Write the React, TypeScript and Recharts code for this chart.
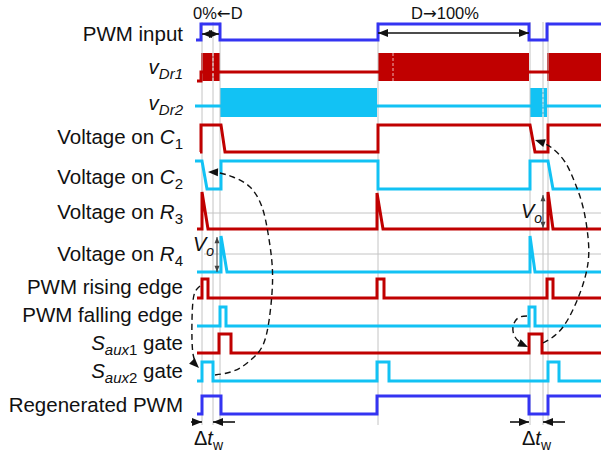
import React from 'react';
import { ComposedChart, Line, Area, Scatter, XAxis, YAxis } from 'recharts';

// ---------- colours & fonts ----------
const BLUE = '#3434F2';
const RED = '#C00000';
const CYAN = '#12C2F4';
const GUIDE = '#C4C4C4';
const INK = '#111111';
const FONT = '"Liberation Sans", Arial, Helvetica, sans-serif';
const ARROW_FONT = '"DejaVu Sans", sans-serif';

// ---------- axes (time in arbitrary units, 0 = start of traces) ----------
const T_DOMAIN: [number, number] = [-49.5, 100.75];
const Y_DOMAIN: [number, number] = [0, 454];

// ---------- waveforms: [time, level] (0 = low, 1 = high) ----------
const pwmInput = [[-0.5, 0], [0.75, 0], [0.75, 1], [5.5, 1], [5.5, 0], [45, 0], [45, 1], [82.75, 1], [82.75, 0], [87.25, 0], [87.25, 1], [100.75, 1]];
const vDr1Idle = [[-0.25, 0], [0.75, 0], [0.75, 0.32], [100.75, 0.32]];
const vDr1Bursts = [[0.75, 5.5], [45, 82.75], [87.25, 100.75]];
const vDr1Seams = [3.75, 48.75];
const vDr2Idle = [[-0.75, 0.38], [100.75, 0.38]];
const vDr2Bursts = [[5.5, 44.75], [83, 87.25]];
const vDr2Seams = [86.25];
const vC1 = [[0.5, 0], [0.75, 0], [0.75, 1], [5.75, 1], [6.75, 0], [45, 0], [45, 1], [83, 1], [84.25, 0], [87.5, 0], [87.5, 1], [100.75, 1]];
const vC2 = [[-0.75, 1], [1, 1], [2.25, 0], [5.75, 0], [5.75, 1], [45, 1], [45, 0], [83, 0], [83, 1], [87.5, 1], [88.75, 0], [100.75, 0]];
const vR3 = [[-0.25, 0], [1, 0], [1, 1], [2.5, 0], [44.75, 0], [44.75, 0.97], [46.25, 0], [87.5, 0], [87.5, 1], [88.75, 0], [100.75, 0]];
const vR4 = [[-0.25, 0], [5.75, 0], [5.75, 1], [7.25, 0], [83, 0], [83, 1], [84.25, 0], [100.75, 0]];
const risingEdge = [[-0.25, 0], [1, 0], [1, 1], [2.5, 1], [2.5, 0], [44.75, 0], [44.75, 1], [46.5, 1], [46.5, 0], [87.25, 0], [87.25, 1], [88.75, 1], [88.75, 0], [100.75, 0]];
const fallingEdge = [[-0.25, 0], [5.5, 0], [5.5, 1], [7, 1], [7, 0], [82.75, 0], [82.75, 1], [84.25, 1], [84.25, 0], [100.75, 0]];
const saux1Gate = [[-0.25, 0], [5.25, 0], [5.25, 1], [8.25, 1], [8.25, 0], [82.75, 0], [82.75, 1], [86, 1], [86, 0], [100.75, 0]];
const saux2Gate = [[-0.25, 0], [1, 0], [1, 1], [3.75, 1], [3.75, 0], [44.75, 0], [44.75, 1], [47.75, 1], [47.75, 0], [87.5, 0], [87.5, 1], [90.25, 1], [90.25, 0], [100.75, 0]];
const regenPwm = [[-0.25, 0], [1, 0], [1, 1], [5.75, 1], [5.75, 0], [44.75, 0], [44.75, 1], [82.75, 1], [82.75, 0], [87.5, 0], [87.5, 1], [100.75, 1]];

// ---------- guide lines ----------
const guideTimes = [1, 3.75, 5.5, 45, 83, 86.25, 87.5];
const levelGuides = [213, 254];

// ---------- row labels (y axis ticks) ----------
type Part = [string, string?];
const labelY = [41, 74, 110, 144, 184, 219, 261, 294, 322, 350, 378, 412];
const labelText: Part[][] = [
  [['PWM input']],
  [['v', 'i'], ['Dr1', 'subi']],
  [['v', 'i'], ['Dr2', 'subi']],
  [['Voltage on '], ['C', 'i'], ['1', 'sub']],
  [['Voltage on '], ['C', 'i'], ['2', 'sub']],
  [['Voltage on '], ['R', 'i'], ['3', 'sub']],
  [['Voltage on '], ['R', 'i'], ['4', 'sub']],
  [['PWM rising edge']],
  [['PWM falling edge']],
  [['S', 'i'], ['aux', 'subi'], ['1', 'sub'], [' gate']],
  [['S', 'i'], ['aux', 'subi'], ['2', 'sub'], [' gate']],
  [['Regenerated PWM']],
];

// ---------- layout of rows (plot units) ----------
const ROW = {
  pwm: { base: 40, amp: 16 },
  vdr1: { base: 81, amp: 28 },
  vdr2: { base: 117, amp: 29 },
  c1: { base: 152, amp: 27 },
  c2: { base: 189, amp: 28 },
  r3: { base: 229, amp: 37 },
  r4: { base: 272, amp: 36 },
  rise: { base: 298, amp: 19 },
  fall: { base: 326, amp: 19 },
  s1: { base: 353, amp: 19 },
  s2: { base: 381, amp: 19 },
  regen: { base: 414, amp: 18 },
};

// ---------- annotations ----------
const dimArrows = [
  { from: [1, 34], to: [5.25, 34], heads: [180, 0], c: INK, w: 1.6, s: 8 },
  { from: [45, 33], to: [82.75, 33], heads: [180, 0], c: INK, w: 1.6, s: 8 },
  { from: [-1.75, 422], to: [1, 422], heads: [-1, 0], c: INK, w: 1.6, s: 8 },
  { from: [9.25, 422], to: [3.75, 422], heads: [-1, 180], c: INK, w: 1.6, s: 8 },
  { from: [78, 422], to: [82.75, 422], heads: [-1, 0], c: INK, w: 1.6, s: 8 },
  { from: [91.75, 422], to: [86.25, 422], heads: [-1, 180], c: INK, w: 1.6, s: 8 },
  { from: [4.75, 237], to: [4.75, 272], heads: [270, 90], c: '#444', w: 1, s: 5 },
  { from: [86.25, 195], to: [86.25, 228], heads: [270, 90], c: '#444', w: 1, s: 5 },
];
const causalCurves = [
  { pts: [[4.25, 375], [7.25, 373], [10.5, 368], [13.75, 358], [16, 347], [17.5, 327], [18.5, 293], [18.5, 263], [17.5, 233], [16, 207], [13, 187], [8.75, 177], [5.5, 173], [3.25, 172]], tip: [2.5, 172], a: 182 },
  { pts: [[0.5, 286], [-0.75, 292], [-1.3, 303], [-1.5, 320], [-1.5, 340], [-1.2, 355], [-0.5, 363]], tip: [0.25, 368], a: 45 },
  { pts: [[86.25, 343], [91.25, 327], [95.5, 293], [97.5, 263], [97.5, 237], [96.25, 207], [94.25, 183], [91.75, 162], [88.5, 148], [85.75, 142]], tip: [84.25, 140], a: 198 },
  { pts: [[82.25, 316], [80, 318], [78.75, 327], [79.25, 337], [81, 344]], tip: [82.5, 347], a: 25 },
];
const textNotes = [
  { t: -1.25, y: 18.5, anchor: 'start', size: 16.5, parts: [['0%'], ['\u2190', 'arrow'], ['D']] as Part[] },
  { t: 61.75, y: 18.5, anchor: 'middle', size: 16.5, parts: [['D'], ['\u2192', 'arrow'], ['100%']] as Part[] },
  { t: -1.25, y: 251, anchor: 'start', size: 20, parts: [['V', 'i'], ['o', 'subi']] as Part[] },
  { t: 80.75, y: 218, anchor: 'start', size: 20, parts: [['V', 'i'], ['o', 'subi']] as Part[] },
  { t: -1, y: 445, anchor: 'start', size: 20, parts: [['\u0394'], ['t', 'i'], ['w', 'sub']] as Part[] },
  { t: 81, y: 445, anchor: 'start', size: 20, parts: [['\u0394'], ['t', 'i'], ['w', 'sub']] as Part[] },
];

// ---------- helpers ----------
const toPts = (wave: number[][], row: { base: number; amp: number }) =>
  wave.map(([t, l]) => ({ t, y: row.base - l * row.amp }));

function rich(parts: Part[], size: number, subSize: number, subShift: number) {
  let shift = 0;
  return parts.map(([txt, kind = 'n'], i) => {
    const isSub = kind === 'sub' || kind === 'subi';
    const target = isSub ? subShift : 0;
    const dy = target - shift;
    shift = target;
    return (
      <tspan key={i} dy={dy !== 0 ? dy : undefined} fontSize={isSub ? subSize : size}
        fontFamily={kind === 'arrow' ? ARROW_FONT : undefined}
        fontStyle={kind === 'i' || kind === 'subi' ? 'italic' : 'normal'}>{txt}</tspan>
    );
  });
}

const RowLabel = (props: any) => {
  const { y, payload } = props;
  const idx = labelY.indexOf(payload.value);
  if (idx < 0) return null;
  return (
    <text x={183} y={y} textAnchor="end" fontFamily={FONT} fontSize={20.5} fill={INK} style={{ whiteSpace: 'pre' }}>
      {rich(labelText[idx], 20.5, 15, 5)}
    </text>
  );
};

const ArrowHead = (props: any) => {
  const { cx, cy, payload } = props;
  if (cx == null || cy == null) return null;
  const L = payload.s * 1.25;
  const W = payload.s;
  return (
    <polygon points={`0,0 ${-L},${-W / 2} ${-L},${W / 2}`}
      transform={`translate(${cx},${cy}) rotate(${payload.a})`} fill={payload.c} />
  );
};

const NoteText = (props: any) => {
  const { cx, cy, payload } = props;
  if (cx == null || cy == null) return null;
  return (
    <text x={cx} y={cy} textAnchor={payload.anchor} fontFamily={FONT} fontSize={payload.size} fill={INK}
      style={{ whiteSpace: 'pre' }}>
      {rich(payload.parts, payload.size, 14, 5)}
    </text>
  );
};

const LINE_BASE = { dot: false, activeDot: false, isAnimationActive: false, dataKey: 'y' } as const;

export default function App() {
  const traces = [
    { k: 'pwm', d: toPts(pwmInput, ROW.pwm), c: BLUE },
    { k: 'vdr1', d: toPts(vDr1Idle, ROW.vdr1), c: RED },
    { k: 'vdr2', d: toPts(vDr2Idle, ROW.vdr2), c: CYAN },
    { k: 'c1', d: toPts(vC1, ROW.c1), c: RED },
    { k: 'c2', d: toPts(vC2, ROW.c2), c: CYAN },
    { k: 'r3', d: toPts(vR3, ROW.r3), c: RED },
    { k: 'r4', d: toPts(vR4, ROW.r4), c: CYAN },
    { k: 'rise', d: toPts(risingEdge, ROW.rise), c: RED },
    { k: 'fall', d: toPts(fallingEdge, ROW.fall), c: CYAN },
    { k: 's1', d: toPts(saux1Gate, ROW.s1), c: RED },
    { k: 's2', d: toPts(saux2Gate, ROW.s2), c: CYAN },
    { k: 'regen', d: toPts(regenPwm, ROW.regen), c: BLUE },
  ];
  const bursts = [
    ...vDr1Bursts.map(([a, b]) => ({ row: ROW.vdr1, a, b, c: RED })),
    ...vDr2Bursts.map(([a, b]) => ({ row: ROW.vdr2, a, b, c: CYAN })),
  ];
  const seams = [
    ...vDr1Seams.map((t) => ({ row: ROW.vdr1, t })),
    ...vDr2Seams.map((t) => ({ row: ROW.vdr2, t })),
  ];
  const heads: any[] = [];
  dimArrows.forEach((ar) => {
    if (ar.heads[0] >= 0) heads.push({ t: ar.from[0], y: ar.from[1], a: ar.heads[0], c: ar.c, s: ar.s });
    if (ar.heads[1] >= 0) heads.push({ t: ar.to[0], y: ar.to[1], a: ar.heads[1], c: ar.c, s: ar.s });
  });
  causalCurves.forEach((cv) => heads.push({ t: cv.tip[0], y: cv.tip[1], a: cv.a, c: INK, s: 8 }));

  return (
    <div style={{ position: 'absolute', left: 0, top: 0, width: 601, height: 454, background: '#fff', pointerEvents: 'none' }}>
      <ComposedChart width={601} height={454} margin={{ top: 0, right: 0, bottom: 0, left: 0 }}>
        <XAxis dataKey="t" type="number" domain={T_DOMAIN} allowDataOverflow hide />
        <YAxis type="number" domain={Y_DOMAIN} reversed allowDataOverflow mirror ticks={labelY} interval={0}
          axisLine={false} tickLine={false} tick={<RowLabel />} />
        {guideTimes.map((g, i) => (
          <Line key={'g' + i} {...LINE_BASE} data={[{ t: g, y: 22 }, { t: g, y: 425 }]} stroke={GUIDE} strokeWidth={1} />
        ))}
        {levelGuides.map((h, i) => (
          <Line key={'h' + i} {...LINE_BASE} data={[{ t: 1.5, y: h }, { t: 100.75, y: h }]} stroke={GUIDE} strokeWidth={1} />
        ))}
        {traces.map((tr) => (
          <Line key={tr.k} {...LINE_BASE} data={tr.d} type="linear" stroke={tr.c} strokeWidth={3} strokeLinejoin="miter" />
        ))}
        {bursts.map((b, i) => (
          <Area key={'b' + i} type="linear" data={[{ t: b.a, r: [b.row.base, b.row.base - b.row.amp] }, { t: b.b, r: [b.row.base, b.row.base - b.row.amp] }]}
            dataKey="r" stroke="none" fill={b.c} fillOpacity={1} dot={false} activeDot={false} isAnimationActive={false} />
        ))}
        {seams.map((s, i) => (
          <Line key={'s' + i} {...LINE_BASE} data={[{ t: s.t, y: s.row.base }, { t: s.t, y: s.row.base - s.row.amp }]}
            stroke="#ffffff" strokeOpacity={0.7} strokeWidth={1} strokeDasharray="3 2" />
        ))}
        {dimArrows.map((ar, i) => (
          <Line key={'d' + i} {...LINE_BASE} data={[{ t: ar.from[0], y: ar.from[1] }, { t: ar.to[0], y: ar.to[1] }]}
            stroke={ar.c} strokeWidth={ar.w} />
        ))}
        {causalCurves.map((cv, i) => (
          <Line key={'c' + i} {...LINE_BASE} data={cv.pts.map(([t, y]) => ({ t, y }))} type="natural"
            stroke={INK} strokeWidth={1.4} strokeDasharray="6 4" />
        ))}
        <Scatter data={heads} dataKey="y" shape={ArrowHead} isAnimationActive={false} />
        <Scatter data={textNotes} dataKey="y" shape={NoteText} isAnimationActive={false} />
      </ComposedChart>
    </div>
  );
}
